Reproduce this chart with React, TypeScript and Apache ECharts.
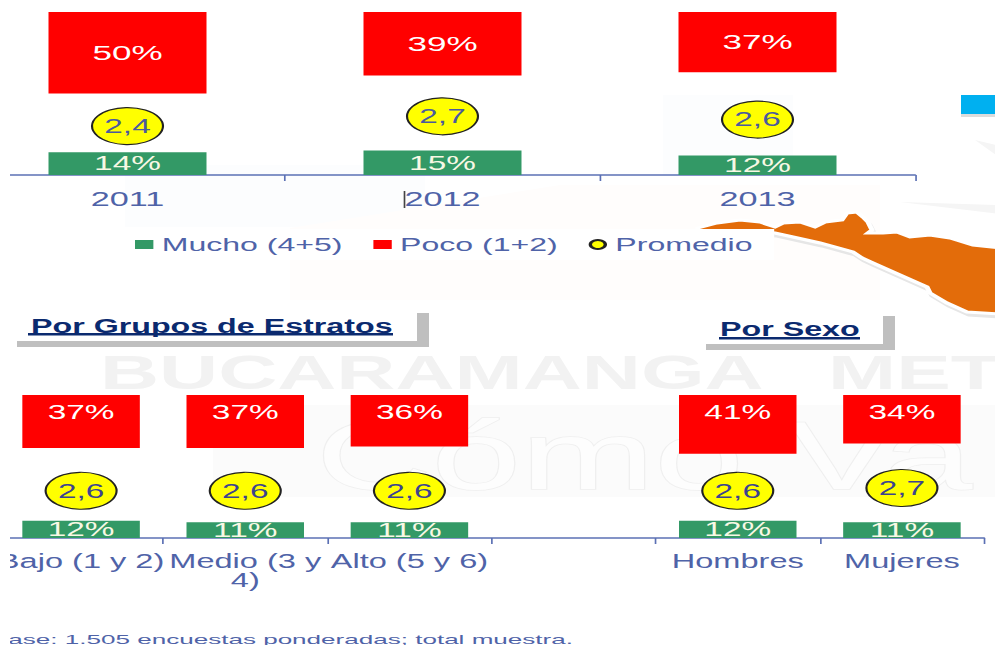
import React, { useEffect, useRef } from "react";
import * as echarts from "echarts";

const years = ["2011", "2012", "2013"];
const muchoYears = [14, 15, 12];
const pocoYears = [50, 39, 37];
const promedioYears = [2.4, 2.7, 2.6];

const groups = ["Bajo (1 y 2)", "Medio (3 y\n4)", "Alto (5 y 6)", "", "Hombres", "Mujeres"];
const muchoGroups: (number | string)[] = [12, 11, 11, "-", 12, 11];
const pocoGroups: (number | string)[] = [37, 37, 36, "-", 41, 34];
const promedioGroups: (number | string)[] = [2.6, 2.6, 2.6, "-", 2.6, 2.7];

const legendNames = ["Mucho (4+5)", "Poco (1+2)", "Promedio"];
const titleEstratos = "Por Grupos de Estratos";
const titleSexo = "Por Sexo";
const footnote = "Base: 1.505 encuestas ponderadas; total muestra.";
const watermarkA = "BUCARAMANGA";
const watermarkB = "MET";
const watermarkBottom = "Cómo Va";

// the reference is stretched horizontally and cropped on its left side:
// the whole chart is drawn narrow, widened, and shifted left
const S = 1.67;
const SHIFT = 30;
const X = (v: number) => (v + SHIFT) / S;
const W = (v: number) => v / S;
const FONT = "'Liberation Sans', Arial, sans-serif";
const BLUE = "#4F63A8";
const AXIS = "#5B70B4";
const GREEN = "#339966";
const RED = "#FF0000";
const YELLOW = "#FFFF00";

const mapOutline: [number, number][] = [
  [698, 228], [717, 223], [740, 220], [760, 222], [775, 227], [783, 223], [800, 222], [815, 227],
  [825, 222], [842, 220], [847, 213], [857, 212], [863, 217], [868, 222], [872, 230], [868, 233],
  [883, 233], [897, 232], [910, 237], [930, 235], [950, 238], [973, 245], [1000, 248], [1000, 314],
  [967, 312], [947, 303], [930, 293], [927, 287], [900, 275], [873, 263], [862, 258], [853, 252],
  [820, 243], [793, 237], [775, 233], [740, 231], [698, 231],
];

function App() {
  const ref = useRef<HTMLDivElement>(null);
  useEffect(() => {
    document.body.style.margin = "0";
    document.body.style.overflow = "hidden";
    const chart = echarts.init(ref.current!, null, { renderer: "svg" });
    const commaLabel = (p: any) => {
      const v = Array.isArray(p.value) ? p.value[p.value.length - 1] : p.value;
      return String(v).replace(".", ",");
    };
    const pct = (p: any) => `${p.value}%`;
    const xAxisBase = (fontSize: number) => ({
      type: "category" as const,
      axisLine: { show: true, lineStyle: { color: AXIS, width: 1.5 } },
      axisTick: { show: true, length: 6, lineStyle: { color: AXIS, width: 1 } },
      axisLabel: {
        color: BLUE, fontFamily: FONT, fontSize, margin: 14, interval: 0, hideOverlap: false,
        lineHeight: 19, verticalAlign: "top" as const,
      },
      splitLine: { show: false },
    });
    const bar = (name: string, xi: number, yi: number, data: any[], width: number, color: string, label: any) => ({
      name, type: "bar" as const, xAxisIndex: xi, yAxisIndex: yi, data, barWidth: width, barGap: "-100%",
      itemStyle: { color }, label: { show: true, fontFamily: FONT, formatter: pct, ...label },
    });
    const dots = (xi: number, yi: number, data: any[], color: string) => ({
      name: legendNames[2], type: "scatter" as const, xAxisIndex: xi, yAxisIndex: yi, data,
      symbol: "circle", symbolSize: [W(71), 37],
      itemStyle: { color: YELLOW, borderColor: "#222", borderWidth: 1.2, opacity: 1 },
      label: { show: true, position: "inside" as const, formatter: commaLabel, color, fontFamily: FONT, fontSize: 20 },
      z: 5,
    });
    const hidden = (gridIndex: number, min: number, max: number, inverse = false) => ({
      type: "value" as const, gridIndex, min, max, inverse, show: false, splitLine: { show: false },
    });
    const mapPoints = mapOutline.map(([a, b]) => [X(a), b]);
    const bg = [
      { type: "rect", z: -2, shape: { x: X(213), y: 405, width: W(790), height: 92 }, style: { fill: "#FBFBFB" } },
      { type: "rect", z: -2, shape: { x: X(125), y: 165, width: W(300), height: 62 }, style: { fill: "#FCFDFE" } },
      { type: "rect", z: -2, shape: { x: X(663), y: 95, width: W(130), height: 80 }, style: { fill: "#FCFDFE" } },
      { type: "polygon", z: -2, shape: { points: [[X(290), 228], [X(560), 185], [X(880), 185], [X(880), 300], [X(290), 300]] }, style: { fill: "#FFFDFC" } },
      { type: "polygon", z: -2, shape: { points: [[X(900), 202], [X(1000), 205], [X(1000), 214]] }, style: { fill: "#F5F5F5" } },
      { type: "polygon", z: -2, shape: { points: [[X(975), 140], [X(1000), 146], [X(1000), 158]] }, style: { fill: "#F5F5F5" } },
      { type: "text", z: -1, x: X(100), y: 372, style: { text: watermarkA, font: `bold 49px ${FONT}`, fill: "#F2F2F2", textVerticalAlign: "middle" } },
      { type: "text", z: -1, x: X(828), y: 372, style: { text: watermarkB, font: `bold 49px ${FONT}`, fill: "#F2F2F2", textVerticalAlign: "middle" } },
      { type: "text", z: -1, x: X(316), y: 456, style: { text: watermarkBottom, font: `96px ${FONT}`, fill: "#FDFDFD", stroke: "#EFEFEF", lineWidth: 1.5, textVerticalAlign: "middle" } },
      { type: "polygon", z: -1, x: W(2), y: 3, shape: { points: mapPoints }, style: { fill: "#E6E6E6", stroke: "#E6E6E6", lineWidth: 3 } },
      { type: "polygon", z: 0, shape: { points: mapPoints }, style: { fill: "#E36C0A", stroke: "#FFFFFF", lineWidth: 3 } },
      { type: "rect", z: 0, shape: { x: X(961), y: 98, width: W(40), height: 19 }, style: { fill: "#DCDCDC" } },
      { type: "rect", z: 1, shape: { x: X(961), y: 95, width: W(40), height: 19 }, style: { fill: "#00B0F0" } },
    ];
    const titles = [
      { type: "rect", z: 1, shape: { x: X(17), y: 341, width: W(412), height: 6 }, style: { fill: "#BFBFBF" } },
      { type: "rect", z: 1, shape: { x: X(417), y: 313, width: W(12), height: 34 }, style: { fill: "#BFBFBF" } },
      { type: "rect", z: 2, shape: { x: X(28), y: 333, width: W(365), height: 2.5 }, style: { fill: "#0B2A6F" } },
      { type: "text", z: 3, x: X(31), y: 326, style: { text: titleEstratos, font: `bold 19.3px ${FONT}`, fill: "#0B2A6F", textVerticalAlign: "middle" } },
      { type: "rect", z: 1, shape: { x: X(706), y: 344, width: W(189), height: 6 }, style: { fill: "#BFBFBF" } },
      { type: "rect", z: 1, shape: { x: X(883), y: 316, width: W(12), height: 34 }, style: { fill: "#BFBFBF" } },
      { type: "rect", z: 2, shape: { x: X(719), y: 337, width: W(141), height: 2.5 }, style: { fill: "#0B2A6F" } },
      { type: "text", z: 3, x: X(720), y: 329, style: { text: titleSexo, font: `bold 19.3px ${FONT}`, fill: "#0B2A6F", textVerticalAlign: "middle" } },
      { type: "line", z: 6, shape: { x1: X(404.5), y1: 191, x2: X(404.5), y2: 208 }, style: { stroke: "#444", lineWidth: 1 } },
      { type: "text", z: 6, x: X(-9), y: 639, scaleX: 1.2, style: { text: footnote, font: `13px ${FONT}`, fill: BLUE, textVerticalAlign: "middle" } },
      { type: "rect", z: 100, shape: { x: 0, y: 0, width: X(10), height: 645 }, style: { fill: "#FFFFFF" } },
    ];
    chart.setOption({
      animation: false,
      backgroundColor: "#FFFFFF",
      legend: {
        left: X(135) - 13, top: 229, padding: [6, 13, 6, 13], backgroundColor: "#FFFFFF", itemGap: 18.5,
        itemWidth: 11, itemHeight: 9, selectedMode: false, z: 4,
        data: [
          { name: legendNames[0], icon: "rect" },
          { name: legendNames[1], icon: "rect" },
          { name: legendNames[2], icon: "circle" },
        ],
        textStyle: { color: BLUE, fontFamily: FONT, fontSize: 19.2 },
      },
      grid: [
        { left: X(-30), width: W(945), top: 12, height: 163, containLabel: false },
        { left: X(-1), width: W(985), top: 395, height: 143, containLabel: false },
      ],
      xAxis: [
        { ...xAxisBase(20.5), gridIndex: 0, data: years },
        { ...xAxisBase(19.5), gridIndex: 1, data: groups },
      ],
      yAxis: [
        hidden(0, 0, 100), hidden(0, 0, 100, true), hidden(0, 0.9, 5.9),
        hidden(1, 0, 100), hidden(1, 0, 100, true), hidden(1, 0.95, 5.95),
      ],
      series: [
        bar(legendNames[0], 0, 0, muchoYears, W(158), GREEN, { position: "inside", color: "#F8F8E4", fontSize: 20 }),
        bar(legendNames[1], 0, 1, pocoYears, W(158), RED, { position: "inside", color: "#FFFFFF", fontSize: 21 }),
        dots(0, 2, promedioYears, "#4A5A9E"),
        bar(legendNames[0], 1, 3, muchoGroups, W(117.5), GREEN, { position: "inside", color: "#F8F8E4", fontSize: 20 }),
        bar(legendNames[1], 1, 4, pocoGroups, W(117.5), RED, { position: "insideTop", distance: 7, color: "#FFFFFF", fontSize: 20 }),
        dots(1, 5, promedioGroups, "#3C438F"),
      ],
      graphic: { elements: [...bg, ...titles] },
    });
    return () => chart.dispose();
  }, []);
  return (
    <div
      ref={ref}
      style={{
        position: "absolute", left: -SHIFT, top: 0, width: (995 + SHIFT) / S, height: 645,
        transform: `scaleX(${S})`, transformOrigin: "0 0",
      }}
    />
  );
}

export default App;
